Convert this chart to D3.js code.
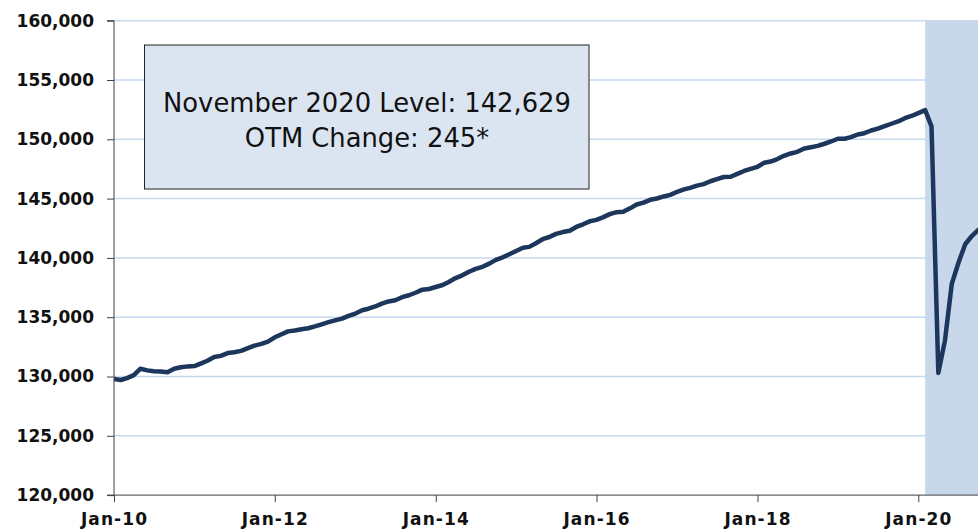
<!DOCTYPE html>
<html>
<head>
<meta charset="utf-8">
<script src="https://cdn.jsdelivr.net/npm/d3@7"></script>
<style>
  body { margin: 0; background: #fff; }
  svg { display: block; }
</style>
</head>
<body>
<script>
// total nonfarm payroll employment, thousands, seasonally adjusted, Jan 2010 - Nov 2020
const payroll = [
  129798, 129705, 129865, 130120, 130658, 130518, 130435, 130416, 130357, 130648, 130776, 130852,
  130876, 131109, 131326, 131638, 131740, 131977, 132047, 132159, 132395, 132607, 132746, 132944,
  133305, 133563, 133805, 133880, 133980, 134067, 134221, 134397, 134582, 134732, 134879, 135117,
  135307, 135585, 135717, 135905, 136149, 136326, 136432, 136687, 136850, 137060, 137323, 137378,
  137549, 137714, 137974, 138300, 138529, 138834, 139073, 139250, 139516, 139831, 140050, 140306,
  140583, 140849, 140928, 141239, 141575, 141762, 142027, 142177, 142285, 142610, 142834, 143084,
  143204, 143437, 143693, 143857, 143885, 144178, 144501, 144664, 144898, 145008, 145180, 145315,
  145575, 145775, 145907, 146095, 146225, 146463, 146646, 146823, 146841, 147085, 147330, 147506,
  147682, 148030, 148127, 148336, 148606, 148804, 148945, 149227, 149334, 149445, 149625, 149816,
  150049, 150050, 150179, 150404, 150513, 150741, 150900, 151104, 151311, 151506, 151782, 151966,
  152212, 152463, 151090, 130303, 133028, 137809, 139570, 141149, 141865, 142384, 142629
];
const firstMonth = new Date(2010, 0, 1);
const months = payroll.map((v, i) => new Date(2010, i, 1));

const yTicks = [120000, 125000, 130000, 135000, 140000, 145000, 150000, 155000, 160000];
const xTickYears = [2010, 2012, 2014, 2016, 2018, 2020];
const recessionStart = new Date(2020, 1, 1);

const boxLines = ["November 2020 Level: 142,629", "OTM Change: 245*"];

const width = 978, height = 529;
const plotLeft = 114, plotRight = 978, plotTop = 20.7, plotBottom = 495.1;

const svg = d3.select('body').append('svg')
  .attr('width', width)
  .attr('height', height);

// Jan-10 -> 114, Jan-20 -> 918.3 (date axis, runs on past the right edge)
const x = d3.scaleTime()
  .domain([firstMonth, new Date(2020, 0, 1)])
  .range([plotLeft, 918.3]);
const xEnd = x.invert(plotRight);

const y = d3.scaleLinear().domain([120000, 160000]).range([plotBottom, plotTop]);

svg.append('defs').append('clipPath').attr('id', 'plot')
  .append('rect').attr('x', plotLeft).attr('y', 0)
  .attr('width', plotRight - plotLeft).attr('height', plotBottom + 2);

// recession shading
svg.append('rect')
  .attr('x', x(recessionStart))
  .attr('y', y(160000))
  .attr('width', x(xEnd) - x(recessionStart))
  .attr('height', y(120000) - y(160000))
  .attr('fill', '#c8d7ea');

// gridlines
svg.append('g')
  .selectAll('line')
  .data(yTicks.slice(1))
  .enter()
  .append('line')
  .attr('x1', plotLeft).attr('x2', plotRight)
  .attr('y1', d => y(d)).attr('y2', d => y(d))
  .attr('stroke', '#c6d9f0')
  .attr('stroke-width', 1.5);

// axes
const yAxis = d3.axisLeft(y).tickValues(yTicks).tickSize(7).tickPadding(13)
  .tickFormat(d3.format(','));
const gy = svg.append('g')
  .attr('transform', `translate(${plotLeft},0)`)
  .call(yAxis);

const xAxis = d3.axisBottom(x)
  .tickValues(xTickYears.map(yr => new Date(yr, 0, 1)))
  .tickSize(7).tickPadding(13)
  .tickFormat(d3.timeFormat('%b-%y'));
const gx = svg.append('g')
  .attr('transform', `translate(0,${plotBottom})`)
  .call(xAxis);

[gx, gy].forEach(g => {
  g.select('.domain').attr('stroke', '#404040');
  g.selectAll('.tick line').attr('stroke', '#404040');
  g.selectAll('text')
    .attr('fill', '#111')
    .style('font-family', 'DejaVu Sans, Verdana, sans-serif')
    .style('font-weight', 'bold')
    .style('font-size', '17px');
});
gy.select('.domain').attr('d', `M-7,${plotBottom}H0V${plotTop}H-7`);
gx.select('.domain').attr('d', `M${plotLeft},0H${plotRight}`);
// labels sit at the very bottom edge, kept just inside the picture
gx.selectAll('text')
  .attr('dy', null)
  .attr('y', 29.5)
  .style('letter-spacing', '1.1px');

// the payroll line
const line = d3.line()
  .x((d, i) => x(months[i]))
  .y(d => y(d));

svg.append('path')
  .datum(payroll)
  .attr('clip-path', 'url(#plot)')
  .attr('d', line)
  .attr('fill', 'none')
  .attr('stroke', '#1c365c')
  .attr('stroke-width', 4.5)
  .attr('stroke-linejoin', 'round');

// annotation box
svg.append('rect')
  .attr('x', 144.5).attr('y', 45)
  .attr('width', 444.5).attr('height', 144)
  .attr('fill', '#dbe5f1')
  .attr('stroke', '#222')
  .attr('stroke-width', 1);

svg.append('g')
  .selectAll('text')
  .data(boxLines)
  .enter()
  .append('text')
  .attr('x', 367)
  .attr('y', (d, i) => 111.7 + i * 35.5)
  .attr('text-anchor', 'middle')
  .attr('fill', '#111')
  .style('font-family', 'DejaVu Sans, Verdana, sans-serif')
  .style('font-size', '25.8px')
  .text(d => d);
</script>
</body>
</html>
